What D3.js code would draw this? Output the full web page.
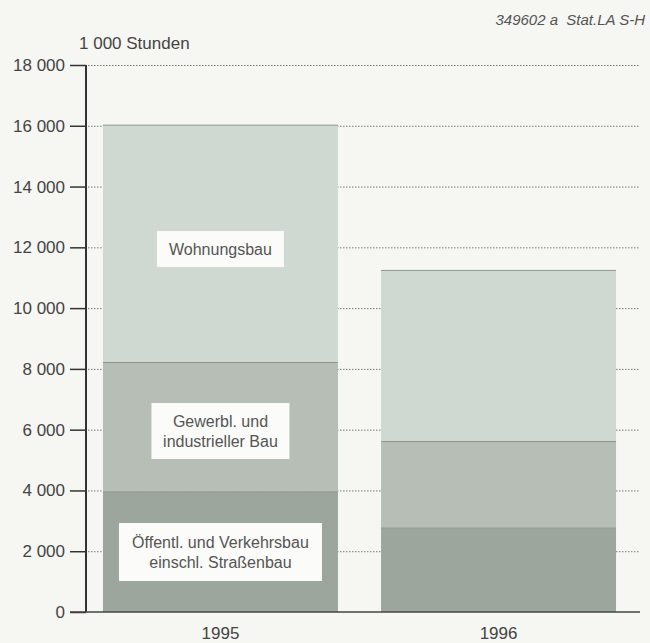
<!DOCTYPE html>
<html>
<head>
<meta charset="utf-8">
<script src="https://cdn.jsdelivr.net/npm/d3@7"></script>
<style>
  body { margin: 0; background: #f6f6f3; }
  svg { display: block; font-family: "Liberation Sans", Arial, sans-serif; }
</style>
</head>
<body>
<div id="chart"></div>
<script>
// Werte in 1 000 Stunden
var years = ["1995", "1996"];
var keys = ["oeffentl", "gewerbl", "wohnung"];
var oeffentl = [3950, 2760];
var gewerbl = [4260, 2850];
var wohnung = [7810, 5630];
var yTicks = [0, 2000, 4000, 6000, 8000, 10000, 12000, 14000, 16000, 18000];

var width = 650, height = 643;
var axisX = 86;

var svg = d3.select("#chart").append("svg")
    .attr("width", width)
    .attr("height", height);

svg.append("rect").attr("width", width).attr("height", height).attr("fill", "#f6f6f3");

var x = d3.scaleBand()
    .domain(years)
    .range([axisX, 633])
    .paddingInner(0.155)
    .paddingOuter(0.061);

var y = d3.scaleLinear()
    .domain([0, 18000])
    .range([612, 65]);

var color = d3.scaleOrdinal()
    .domain(keys)
    .range(["#9ca69d", "#b6beb6", "#d0d9d1"]);

var fmt = function(d) { return d3.format(",")(d).replace(/,/g, " "); };

// dotted grid lines
svg.append("g")
  .selectAll("line")
  .data(yTicks.slice(1))
  .enter().append("line")
    .attr("x1", axisX + 2)
    .attr("x2", 640)
    .attr("y1", function(d) { return y(d) + 0.5; })
    .attr("y2", function(d) { return y(d) + 0.5; })
    .attr("stroke", "#7a7a7a")
    .attr("stroke-width", 1)
    .attr("stroke-dasharray", "1.5,1.5");

// stacked bars
var table = years.map(function(yr, i) {
  return { year: yr, oeffentl: oeffentl[i], gewerbl: gewerbl[i], wohnung: wohnung[i] };
});
var stacked = d3.stack().keys(keys)(table);

svg.append("g")
  .selectAll("g")
  .data(stacked)
  .enter().append("g")
    .attr("fill", function(d) { return color(d.key); })
  .selectAll("rect")
  .data(function(d) { return d; })
  .enter().append("rect")
    .attr("x", function(d) { return x(d.data.year); })
    .attr("y", function(d) { return y(d[1]); })
    .attr("width", x.bandwidth())
    .attr("height", function(d) { return y(d[0]) - y(d[1]); });

// segment borders
svg.append("g")
  .selectAll("line")
  .data(stacked.reduce(function(a, s) { return a.concat(s.slice()); }, []))
  .enter().append("line")
    .attr("x1", function(d) { return x(d.data.year); })
    .attr("x2", function(d) { return x(d.data.year) + x.bandwidth(); })
    .attr("y1", function(d) { return y(d[1]); })
    .attr("y2", function(d) { return y(d[1]); })
    .attr("stroke", "#8e978f")
    .attr("stroke-width", 1);

// y axis
var yAxis = d3.axisLeft(y)
    .tickValues(yTicks)
    .tickFormat(fmt)
    .tickSize(16)
    .tickPadding(5);

var ax = svg.append("g")
    .attr("transform", "translate(" + axisX + ",0)")
    .call(yAxis);
ax.select(".domain").remove();
ax.selectAll(".tick line").attr("stroke", "#333").attr("stroke-width", 1.5);
ax.selectAll(".tick text")
    .attr("font-size", 17)
    .attr("fill", "#444");

svg.append("line")
    .attr("x1", axisX).attr("x2", axisX)
    .attr("y1", y(18000)).attr("y2", y(0))
    .attr("stroke", "#333").attr("stroke-width", 2);

// baseline
svg.append("line")
    .attr("x1", axisX - 16).attr("x2", 640)
    .attr("y1", y(0)).attr("y2", y(0))
    .attr("stroke", "#444").attr("stroke-width", 1.5);

// x labels
svg.append("g")
  .selectAll("text")
  .data(years)
  .enter().append("text")
    .attr("x", function(d) { return x(d) + x.bandwidth() / 2; })
    .attr("y", 639)
    .attr("text-anchor", "middle")
    .attr("font-size", 17)
    .attr("fill", "#444")
    .text(function(d) { return d; });

// unit and source
svg.append("text")
    .attr("x", 79).attr("y", 49)
    .attr("font-size", 17)
    .attr("fill", "#444")
    .text("1 000 Stunden");

svg.append("text")
    .attr("x", 645).attr("y", 25)
    .attr("text-anchor", "end")
    .attr("font-size", 15)
    .attr("font-style", "italic")
    .attr("fill", "#555")
    .attr("xml:space", "preserve")
    .text("349602 a  Stat.LA S-H");

// segment labels (first bar)
var labels = [
  { key: "wohnung", lines: ["Wohnungsbau"], w: 127, h: 36, cy: 249 },
  { key: "gewerbl", lines: ["Gewerbl. und", "industrieller Bau"], w: 138, h: 56, cy: 431 },
  { key: "oeffentl", lines: ["\u00d6ffentl. und Verkehrsbau", "einschl. Stra\u00dfenbau"], w: 203, h: 58, cy: 552 }
];

var lg = svg.append("g")
  .selectAll("g")
  .data(labels)
  .enter().append("g")
    .attr("transform", function(d) {
      return "translate(" + (x("1995") + x.bandwidth() / 2) + "," + d.cy + ")";
    });

lg.append("rect")
    .attr("x", function(d) { return -d.w / 2; })
    .attr("y", function(d) { return -d.h / 2; })
    .attr("width", function(d) { return d.w; })
    .attr("height", function(d) { return d.h; })
    .attr("fill", "#fbfbf9");

lg.each(function(d) {
  var g = d3.select(this);
  var n = d.lines.length;
  d.lines.forEach(function(t, i) {
    g.append("text")
      .attr("x", 0)
      .attr("y", (i - (n - 1) / 2) * 20)
      .attr("dy", "0.35em")
      .attr("text-anchor", "middle")
      .attr("font-size", 16)
      .attr("fill", "#555")
      .text(t);
  });
});
</script>
</body>
</html>
